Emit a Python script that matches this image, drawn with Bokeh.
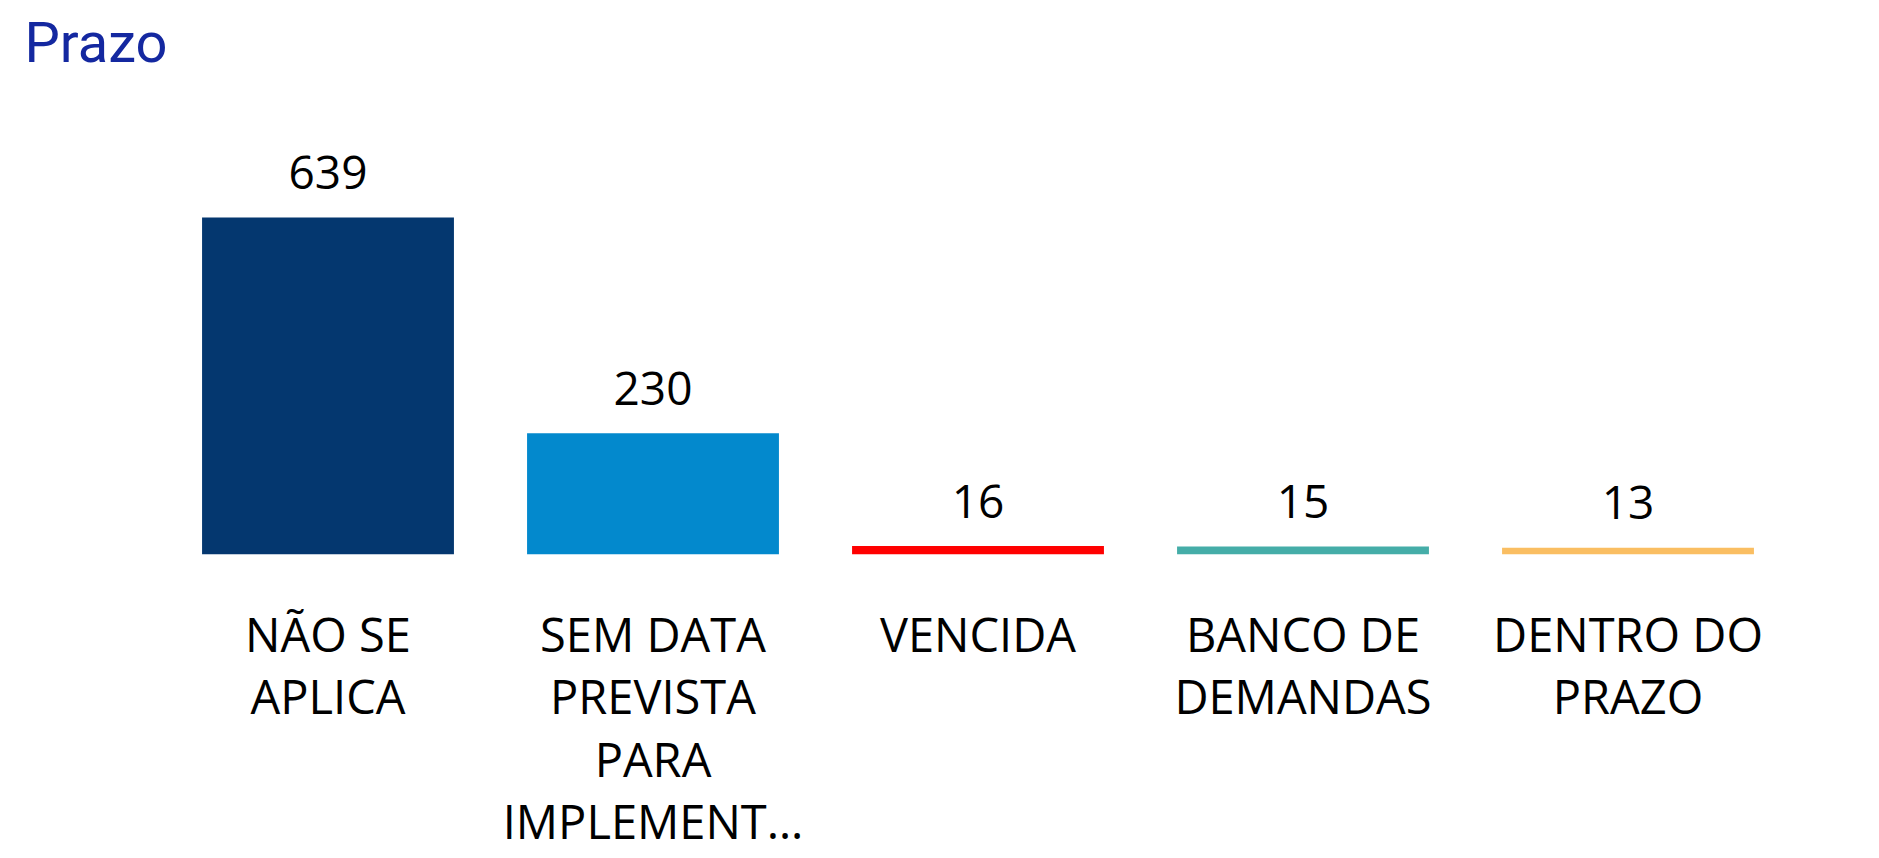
from bokeh.plotting import figure
from bokeh.models import ColumnDataSource, FactorRange, Range1d
from bokeh.core.properties import value
from bokeh.embed import file_html
from bokeh.resources import INLINE

# ---- data ----
categories = ["NÃO SE\nAPLICA", "SEM DATA\nPREVISTA\nPARA\nIMPLEMENT…", "VENCIDA",
              "BANCO DE\nDEMANDAS", "DENTRO DO\nPRAZO"]
values = [639, 230, 16, 15, 13]
colors = ["#04376F", "#0389CD", "#FF0000", "#45ADA8", "#FABE62"]
title_text = "Prazo"

source = ColumnDataSource(dict(
    cat=categories,
    val=values,
    color=colors,
    label=[str(v) for v in values],
))

p = figure(
    frame_width=1625, frame_height=471,
    x_range=FactorRange(*categories, range_padding=0),
    y_range=Range1d(0, 893),
    output_backend="svg", toolbar_location=None,
    y_axis_location=None,
    min_border_left=165, min_border_right=73,
    min_border_top=79, min_border_bottom=292,
)
p.outline_line_color = None
p.background_fill_color = "white"
p.border_fill_color = "white"
p.grid.visible = False

p.vbar(x="cat", top="val", bottom=0, width=0.775, color="color",
       line_color=None, source=source)
p.text(x="cat", y="val", text="label", source=source,
       text_align="center", text_baseline="alphabetic", y_offset=-45,
       text_font=value("Open Sans"), text_font_size="46px", text_color="#000000")

ax = p.xaxis[0]
ax.axis_line_color = None
ax.major_tick_line_color = None
ax.minor_tick_line_color = None
ax.major_label_text_font = "Open Sans"
ax.major_label_text_font_size = "47px"
ax.major_label_text_color = "#000000"
ax.major_label_text_line_height = 0.977
ax.major_label_standoff = 41
ax.major_label_orientation = "horizontal"

p.title.text = title_text
p.title.align = "left"
p.title.offset = -141
p.title.text_font = "Roboto"
p.title.text_font_size = "56px"
p.title.text_font_style = "normal"
p.title.text_color = "#1428A0"
p.title.standoff = 15

open("out.html", "w").write(file_html(p, INLINE))
